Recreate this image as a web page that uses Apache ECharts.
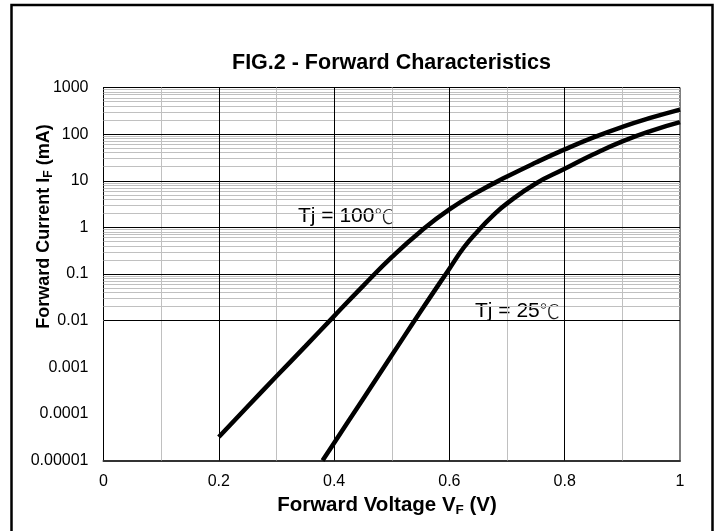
<!DOCTYPE html>
<html><head><meta charset="utf-8">
<script src="https://cdn.jsdelivr.net/npm/echarts@6/dist/echarts.min.js"></script>
<style>html,body{margin:0;padding:0;background:#fff}#c{width:721px;height:531px}</style>
</head><body><div id="c"></div>
<script>
// ---- data ----
const xTickLabels = ['0', '0.2', '0.4', '0.6', '0.8', '1'];
const yTickLabels = ['0.00001', '0.0001', '0.001', '0.01', '0.1', '1', '10', '100', '1000'];
const xMajor = [0.2, 0.4, 0.6, 0.8];
const xMinor = [0.1, 0.3, 0.5, 0.7, 0.9];
const yDecades = [0.0001, 0.001, 0.01, 0.1, 1, 10, 100];
const yMinorBase = [0.00001, 0.0001, 0.001, 0.01, 0.1, 1, 10, 100];
const yMinorMult = [2, 3, 4, 5, 6, 7, 8, 9];
const tj100V = [0.2, 0.25, 0.3, 0.35, 0.4, 0.45, 0.5, 0.55, 0.6, 0.65, 0.7, 0.75, 0.8, 0.85, 0.9, 0.95, 1.0];
const tj100I = [3.2e-5, 1.44e-4, 6.4e-4, 2.8e-3, 0.0125, 0.055, 0.23, 0.82, 2.43, 5.8, 12.3, 24.6, 47, 85, 143, 225, 336];
const tj25V = [0.38, 0.4, 0.45, 0.5, 0.55, 0.6, 0.625, 0.65, 0.675, 0.7, 0.75, 0.8, 0.85, 0.9, 0.95, 1.0];
const tj25I = [1e-5, 2.38e-5, 2.06e-4, 1.8e-3, 0.0157, 0.13, 0.37, 0.85, 1.76, 3.27, 8.75, 18, 37, 70, 118, 181];

const FONT = '"Liberation Sans", Arial, sans-serif';
const CJK = '"Noto Sans CJK SC", "Noto Sans CJK JP", sans-serif';
const chart = echarts.init(document.getElementById('c'));

const minorY = [];
yMinorBase.forEach(b => yMinorMult.forEach(m => minorY.push({ yAxis: b * m })));
const minorLines = minorY.concat(xMinor.map(v => ({ xAxis: v })));
const majorLines = yDecades.map(v => ({ yAxis: v })).concat(xMajor.map(v => ({ xAxis: v })));

function zip(a, b) { return a.map((v, i) => [v, b[i]]); }
const txt = (size, bold, fam) => ({ fontSize: size, fontWeight: bold ? 'bold' : 'normal', fontFamily: fam || FONT, fill: '#000' });
const tjRich = { a: txt(21, false), b: Object.assign(txt(20, false, CJK), { fontWeight: 300, fill: '#222' }) };

chart.setOption({
  animation: false,
  backgroundColor: '#fff',
  grid: { left: 103.5, top: 87.5, width: 576.5, height: 373, show: true, borderColor: '#000', borderWidth: 1, backgroundColor: 'transparent' },
  xAxis: {
    type: 'value', min: 0, max: 1, interval: 0.2,
    axisLine: { show: true, lineStyle: { color: '#333', width: 2 } },
    axisTick: { show: false },
    splitLine: { show: false },
    axisLabel: { margin: 13, color: '#000', fontSize: 16, fontFamily: FONT,
      formatter: v => xTickLabels[Math.round(v / 0.2)] }
  },
  yAxis: {
    type: 'log', logBase: 10, min: 0.00001, max: 1000,
    axisLine: { show: true, lineStyle: { color: '#000', width: 1 } },
    axisTick: { show: false },
    splitLine: { show: false },
    axisLabel: { margin: 15, color: '#000', fontSize: 16, fontFamily: FONT,
      formatter: v => yTickLabels[Math.round(Math.log10(v)) + 5] }
  },
  graphic: [
    { type: 'rect', shape: { x: 11.5, y: 5, width: 701, height: 540 }, style: { fill: 'none', stroke: '#000', lineWidth: 2.5 }, silent: true },
    { type: 'text', x: 391.5, y: 63.5, style: Object.assign(txt(21.5, true), { text: 'FIG.2 - Forward Characteristics', align: 'center', verticalAlign: 'middle' }) },
    { type: 'text', x: 387, y: 505, style: {
      text: '{a|Forward Voltage V}{s|F}{a| (V)}', align: 'center', verticalAlign: 'middle',
      rich: { a: Object.assign(txt(20.5, true), { lineHeight: 24 }),
              s: Object.assign(txt(13.5, true), { lineHeight: 24, verticalAlign: 'bottom' }) } } },
    { type: 'text', x: 44, y: 226.5, rotation: Math.PI / 2, style: {
      text: '{a|Forward Current I}{s|F}{a| (mA)}', align: 'center', verticalAlign: 'middle',
      rich: { a: Object.assign(txt(18, true), { lineHeight: 22 }),
              s: Object.assign(txt(12, true), { lineHeight: 22, verticalAlign: 'bottom' }) } } },
    { type: 'text', x: 298, y: 216, style: { text: '{a|Tj = 100}{b|℃}', rich: tjRich, align: 'left', verticalAlign: 'middle' } },
    { type: 'text', x: 475, y: 311, style: { text: '{a|Tj = 25}{b|℃}', rich: tjRich, align: 'left', verticalAlign: 'middle' } }
  ],
  series: [
    { type: 'line', data: [], silent: true, z: 1,
      markLine: { silent: true, symbol: ['none', 'none'], label: { show: false }, animation: false,
        lineStyle: { color: '#c0c0c0', width: 1, type: 'solid' }, data: minorLines } },
    { type: 'line', data: [], silent: true, z: 1,
      markLine: { silent: true, symbol: ['none', 'none'], label: { show: false }, animation: false,
        lineStyle: { color: '#000', width: 1, type: 'solid' }, data: majorLines } },
    { name: 'Tj = 100℃', type: 'line', data: zip(tj100V, tj100I), smooth: 0.5, showSymbol: false, z: 5,
      lineStyle: { color: '#000', width: 4.5, cap: 'butt' } },
    { name: 'Tj = 25℃', type: 'line', data: zip(tj25V, tj25I), smooth: 0.5, showSymbol: false, z: 5,
      lineStyle: { color: '#000', width: 4.5, cap: 'butt' } }
  ]
});
</script></body></html>
